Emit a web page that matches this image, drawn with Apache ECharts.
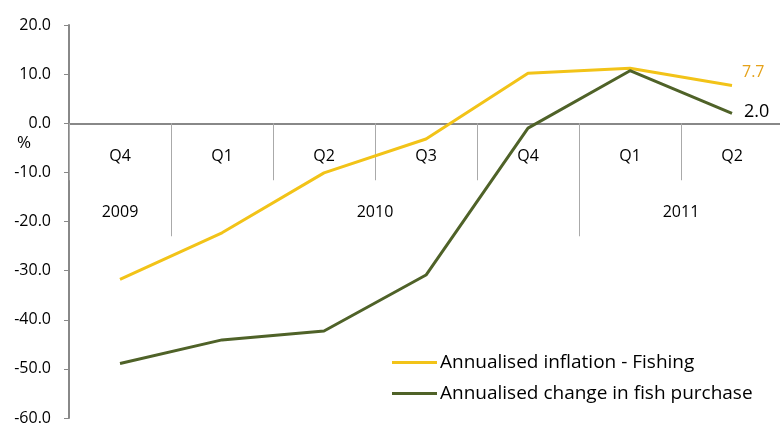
<!DOCTYPE html>
<html><head><meta charset="utf-8">
<script src="https://cdn.jsdelivr.net/npm/echarts@6/dist/echarts.min.js"></script>
<style>html,body{margin:0;padding:0;background:#fff}#c{width:780px;height:424px}</style>
</head><body><div id="c"></div>
<script>
const quarters = ['Q4','Q1','Q2','Q3','Q4','Q1','Q2'];
const years = ['2009','2010','2011'];
const yearCenters = [0.5, 3, 6];
const yearBounds = [1, 5];
const inflation = [-31.8, -22.3, -10.1, -3.2, 10.2, 11.2, 7.7];
const fishPurchase = [-48.9, -44.1, -42.3, -30.9, -1.0, 10.7, 2.0];
const seriesNames = ['Annualised inflation - Fishing', 'Annualised change in fish purchase'];

const FONT = 'Open Sans';
const Y_MIN = -60, Y_MAX = 20;
const TOP = 25, PLOT_H = 393;
const zeroH = PLOT_H * Y_MAX / (Y_MAX - Y_MIN);
const chart = echarts.init(document.getElementById('c'), null, {renderer:'canvas'});
const gridBase = {left: 69, right: -3, top: TOP, outerBoundsMode: 'none', containLabel: false};
chart.setOption({
  animation: false,
  grid: [
    Object.assign({}, gridBase, {height: PLOT_H}),
    Object.assign({}, gridBase, {height: zeroH}),
    Object.assign({}, gridBase, {height: zeroH})
  ],
  legend: {
    orient: 'vertical', left: 387, top: 348, itemWidth: 45, itemHeight: 3, itemGap: 12,
    icon: 'rect',
    textStyle: {fontFamily: FONT, fontSize: 19, color: '#000', padding: [0,0,0,-2]},
    data: seriesNames
  },
  xAxis: [{
    gridIndex: 0, type: 'category', data: quarters, boundaryGap: true, show: false
  }, {
    gridIndex: 1, type: 'category', data: quarters, boundaryGap: true, position: 'bottom',
    axisLine: {show: true, onZero: false, lineStyle: {color: '#888', width: 2}},
    axisTick: {show: true, length: 57, interval: 0, lineStyle: {color: '#aaa', width: 1}},
    axisLabel: {interval: 0, margin: 25, fontFamily: FONT, fontSize: 16, color: '#000'}
  }, {
    gridIndex: 2, type: 'value', min: 0, max: 7, position: 'bottom',
    axisLine: {show: false, onZero: false},
    splitLine: {show: false},
    axisTick: {show: true, length: 113, customValues: yearBounds, lineStyle: {color: '#aaa', width: 1}},
    axisLabel: {show: true, customValues: yearCenters, margin: 81, fontFamily: FONT, fontSize: 16, color: '#000',
      formatter: v => years[yearCenters.indexOf(v)] || ''}
  }],
  yAxis: [{
    gridIndex: 0, type: 'value', min: Y_MIN, max: Y_MAX, interval: 10,
    axisLine: {show: true, lineStyle: {color: '#888', width: 2}},
    axisTick: {show: true, length: 5, lineStyle: {color: '#888'}},
    splitLine: {show: false},
    axisLabel: {margin: 18, fontFamily: FONT, fontSize: 16, color: '#000', formatter: v => v.toFixed(1)}
  }, {
    gridIndex: 1, type: 'value', min: 0, max: 1, show: false
  }, {
    gridIndex: 2, type: 'value', min: 0, max: 1, show: false
  }],
  graphic: [{type: 'text', left: 17, top: 135, style: {text: '%', fontFamily: FONT, fontSize: 17, fill: '#000'}}],
  series: [{
    name: seriesNames[0], type: 'line', data: inflation, symbol: 'none', z: 5,
    lineStyle: {color: '#f2c318', width: 3}, itemStyle: {color: '#f2c318'},
    endLabel: {show: true, distance: 10, offset: [0, -13], color: '#e5a21a', fontSize: 16, fontFamily: FONT,
      formatter: p => p.value.toFixed(1)}
  }, {
    name: seriesNames[1], type: 'line', data: fishPurchase, symbol: 'none', z: 5,
    lineStyle: {color: '#4f6228', width: 3}, itemStyle: {color: '#4f6228'},
    endLabel: {show: true, distance: 12, offset: [0, -2], color: '#000', fontSize: 18, fontFamily: FONT,
      formatter: p => p.value.toFixed(1)}
  }]
});
</script></body></html>
